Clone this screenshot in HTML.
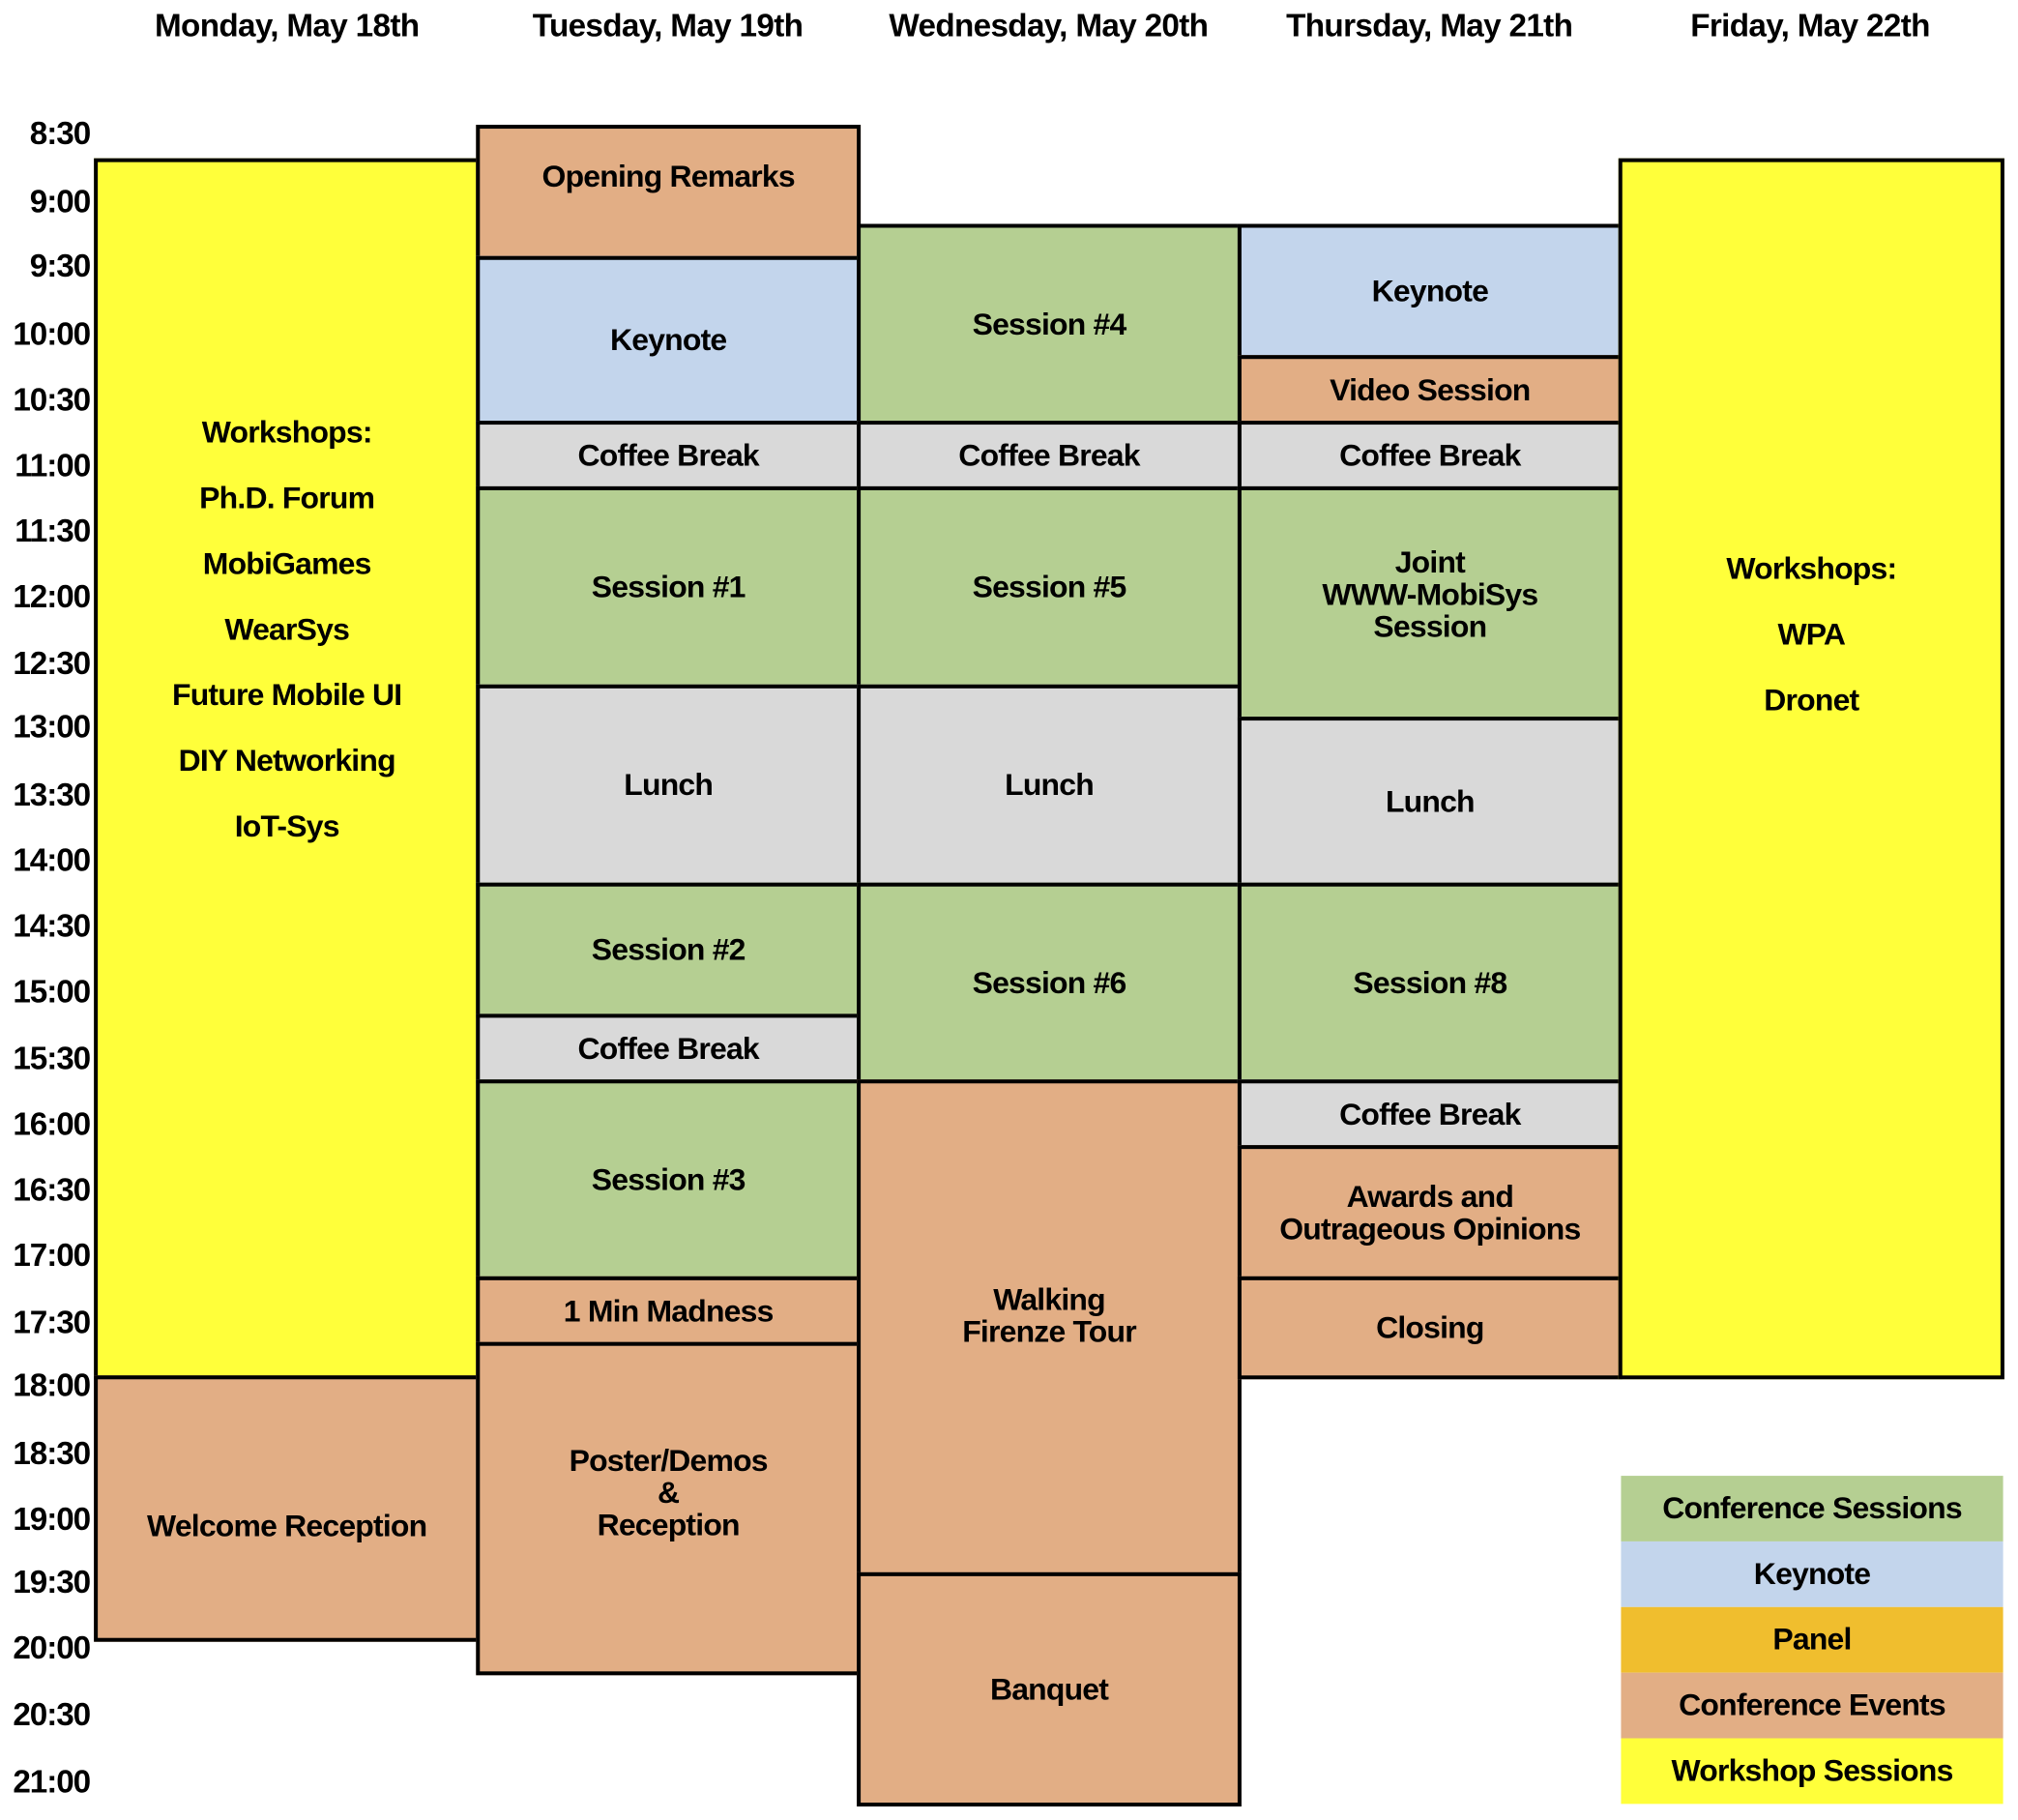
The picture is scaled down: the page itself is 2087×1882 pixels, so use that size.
<!DOCTYPE html>
<html><head><meta charset="utf-8"><style>
html,body{margin:0;padding:0;background:#fff;}
body{width:2087px;height:1882px;overflow:hidden;position:relative;}
#w{position:absolute;left:0;top:0;width:1560px;height:1406px;transform:scale(1.3305);transform-origin:0 0;font-family:"Liberation Sans",sans-serif;font-weight:bold;color:#000;}
.b{position:absolute;box-sizing:border-box;border:3.5px solid #000;display:flex;align-items:center;justify-content:center;text-align:center;font-size:24px;line-height:25px;letter-spacing:-0.6px;}
.t{position:absolute;font-size:25px;text-align:right;width:70px;left:0;letter-spacing:-0.8px;}
.h{position:absolute;top:6px;font-size:25px;text-align:center;width:296px;letter-spacing:-0.5px;white-space:nowrap;}
.g{background:#b5cf92}.k{background:#c3d5ec}.e{background:#e2ae85}.c{background:#d9d9d9}.y{background:#ffff3a}.p{background:#f0be2e}
.l{position:absolute;left:1260px;width:297px;height:51px;display:flex;align-items:center;justify-content:center;font-size:24px;letter-spacing:-0.6px;}
</style></head><body><div id="w">
<div class="h" style="left:75px">Monday, May 18th</div>
<div class="h" style="left:371px">Tuesday, May 19th</div>
<div class="h" style="left:667px">Wednesday, May 20th</div>
<div class="h" style="left:963px">Thursday, May 21th</div>
<div class="h" style="left:1259px">Friday, May 22th</div>

<div class="t" style="top:90px">8:30</div>
<div class="t" style="top:143px">9:00</div>
<div class="t" style="top:193px">9:30</div>
<div class="t" style="top:246px">10:00</div>
<div class="t" style="top:297px">10:30</div>
<div class="t" style="top:348px">11:00</div>
<div class="t" style="top:399px">11:30</div>
<div class="t" style="top:450px">12:00</div>
<div class="t" style="top:502px">12:30</div>
<div class="t" style="top:551px">13:00</div>
<div class="t" style="top:604px">13:30</div>
<div class="t" style="top:655px">14:00</div>
<div class="t" style="top:706px">14:30</div>
<div class="t" style="top:757px">15:00</div>
<div class="t" style="top:809px">15:30</div>
<div class="t" style="top:860px">16:00</div>
<div class="t" style="top:911px">16:30</div>
<div class="t" style="top:962px">17:00</div>
<div class="t" style="top:1014px">17:30</div>
<div class="t" style="top:1063px">18:00</div>
<div class="t" style="top:1116px">18:30</div>
<div class="t" style="top:1167px">19:00</div>
<div class="t" style="top:1216px">19:30</div>
<div class="t" style="top:1267px">20:00</div>
<div class="t" style="top:1319px">20:30</div>
<div class="t" style="top:1371px">21:00</div>

<!-- Monday -->
<div class="b y" style="left:73px;top:123px;width:300px;height:949px;align-items:flex-start;line-height:51px;padding-top:185px">Workshops:<br>Ph.D. Forum<br>MobiGames<br>WearSys<br>Future Mobile UI<br>DIY Networking<br>IoT-Sys</div>
<div class="b e" style="left:73px;top:1069px;width:300px;height:207px;padding-top:28px">Welcome Reception</div>

<!-- Tuesday -->
<div class="b e" style="left:370px;top:97px;width:299px;height:105px;padding-bottom:24px">Opening Remarks</div>
<div class="b k" style="left:370px;top:199px;width:299px;height:131px">Keynote</div>
<div class="b c" style="left:370px;top:327px;width:299px;height:54px">Coffee Break</div>
<div class="b g" style="left:370px;top:378px;width:299px;height:157px">Session #1</div>
<div class="b c" style="left:370px;top:532px;width:299px;height:157px">Lunch</div>
<div class="b g" style="left:370px;top:686px;width:299px;height:105px">Session #2</div>
<div class="b c" style="left:370px;top:788px;width:299px;height:54px">Coffee Break</div>
<div class="b g" style="left:370px;top:839px;width:299px;height:156px">Session #3</div>
<div class="b e" style="left:370px;top:992px;width:299px;height:54px">1 Min Madness</div>
<div class="b e" style="left:370px;top:1043px;width:299px;height:259px;padding-bottom:24px">Poster/Demos<br>&amp;<br>Reception</div>

<!-- Wednesday -->
<div class="b g" style="left:666px;top:174px;width:299px;height:156px">Session #4</div>
<div class="b c" style="left:666px;top:327px;width:299px;height:54px">Coffee Break</div>
<div class="b g" style="left:666px;top:378px;width:299px;height:157px">Session #5</div>
<div class="b c" style="left:666px;top:532px;width:299px;height:157px">Lunch</div>
<div class="b g" style="left:666px;top:686px;width:299px;height:156px">Session #6</div>
<div class="b e" style="left:666px;top:839px;width:299px;height:386px;padding-bottom:18px">Walking<br>Firenze Tour</div>
<div class="b e" style="left:666px;top:1222px;width:299px;height:182px">Banquet</div>

<!-- Thursday -->
<div class="b k" style="left:962px;top:174px;width:299px;height:105px">Keynote</div>
<div class="b e" style="left:962px;top:276px;width:299px;height:54px">Video Session</div>
<div class="b c" style="left:962px;top:327px;width:299px;height:54px">Coffee Break</div>
<div class="b g" style="left:962px;top:378px;width:299px;height:182px;padding-bottom:14px">Joint<br>WWW-MobiSys<br>Session</div>
<div class="b c" style="left:962px;top:557px;width:299px;height:132px">Lunch</div>
<div class="b g" style="left:962px;top:686px;width:299px;height:156px">Session #8</div>
<div class="b c" style="left:962px;top:839px;width:299px;height:54px">Coffee Break</div>
<div class="b e" style="left:962px;top:890px;width:299px;height:105px">Awards and<br>Outrageous Opinions</div>
<div class="b e" style="left:962px;top:992px;width:299px;height:80px">Closing</div>

<!-- Friday -->
<div class="b y" style="left:1258px;top:123px;width:300px;height:949px;align-items:flex-start;line-height:51px;padding-top:291px">Workshops:<br>WPA<br>Dronet</div>

<!-- Legend -->
<div class="l g" style="top:1147px">Conference Sessions</div>
<div class="l k" style="top:1198px">Keynote</div>
<div class="l p" style="top:1249px">Panel</div>
<div class="l e" style="top:1300px">Conference Events</div>
<div class="l y" style="top:1351px">Workshop Sessions</div>
</div></body></html>
